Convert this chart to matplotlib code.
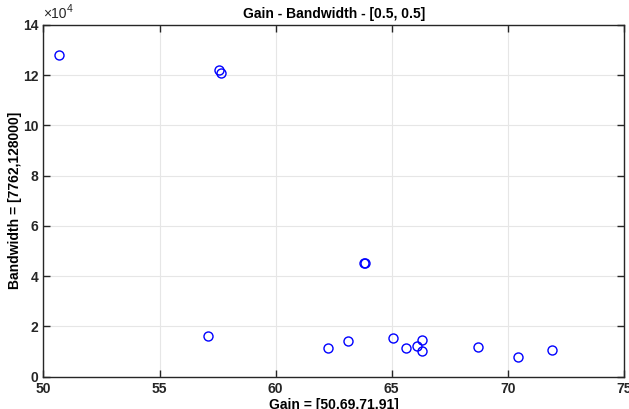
import numpy as np
import matplotlib.pyplot as plt
from matplotlib.ticker import FuncFormatter

# ---------- DATA ----------
gain = [50.69, 57.54, 57.65, 63.82, 63.85, 57.07, 62.25, 63.11, 65.06,
        65.60, 66.09, 66.29, 66.29, 68.71, 70.43, 71.91]
bandwidth = [128000, 122200, 120900, 45100, 45200, 16100, 11300, 14300, 15300,
             11300, 12300, 14500, 10200, 11700, 7762, 10600]

TITLE = "Gain - Bandwidth - [0.5, 0.5]"
XLABEL = "Gain = [50.69,71.91]"
YLABEL = "Bandwidth = [7762,128000]"
XTICKS = [50, 55, 60, 65, 70, 75]
YTICKS = [0, 2e4, 4e4, 6e4, 8e4, 10e4, 12e4, 14e4]
# ---------------------------------------------------

plt.rcParams["font.family"] = ["Liberation Sans", "DejaVu Sans"]
AX_COL = "#262626"

fig = plt.figure(figsize=(6.29, 4.09), dpi=100)
ax = fig.add_axes([0.069, 0.079, 0.923, 0.860])

ax.plot(gain, bandwidth, "o", mfc="none", mec="blue", ms=6.5, mew=1.0)

ax.set_xlim(50, 75)
ax.set_ylim(0, 14e4)
ax.set_xticks(XTICKS)
ax.set_yticks(YTICKS)
ax.yaxis.set_major_formatter(FuncFormatter(lambda v, p: f"{v/1e4:g}"))

# MATLAB-style exponent label above the y axis
ax.text(0.0, 1.012, "\u00d710", transform=ax.transAxes, fontsize=10,
        color=AX_COL, ha="left", va="bottom")
ax.text(0.04, 1.032, "4", transform=ax.transAxes, fontsize=7.5,
        color=AX_COL, ha="left", va="bottom")

ax.grid(True, color="#e6e6e6", lw=0.8)
ax.set_axisbelow(True)
for s in ax.spines.values():
    s.set_color(AX_COL)
    s.set_linewidth(1.0)
ax.tick_params(direction="in", length=5, width=1, colors=AX_COL,
               top=True, right=True, labelsize=10)
for lbl in ax.get_xticklabels() + ax.get_yticklabels():
    lbl.set_fontweight("bold")

ax.set_title(TITLE, fontsize=10, fontweight="bold", pad=5)
ax.set_xlabel(XLABEL, fontsize=10, fontweight="bold", labelpad=2)
ax.set_ylabel(YLABEL, fontsize=10, fontweight="bold", labelpad=1)

fig.savefig("out.png", dpi=100)
